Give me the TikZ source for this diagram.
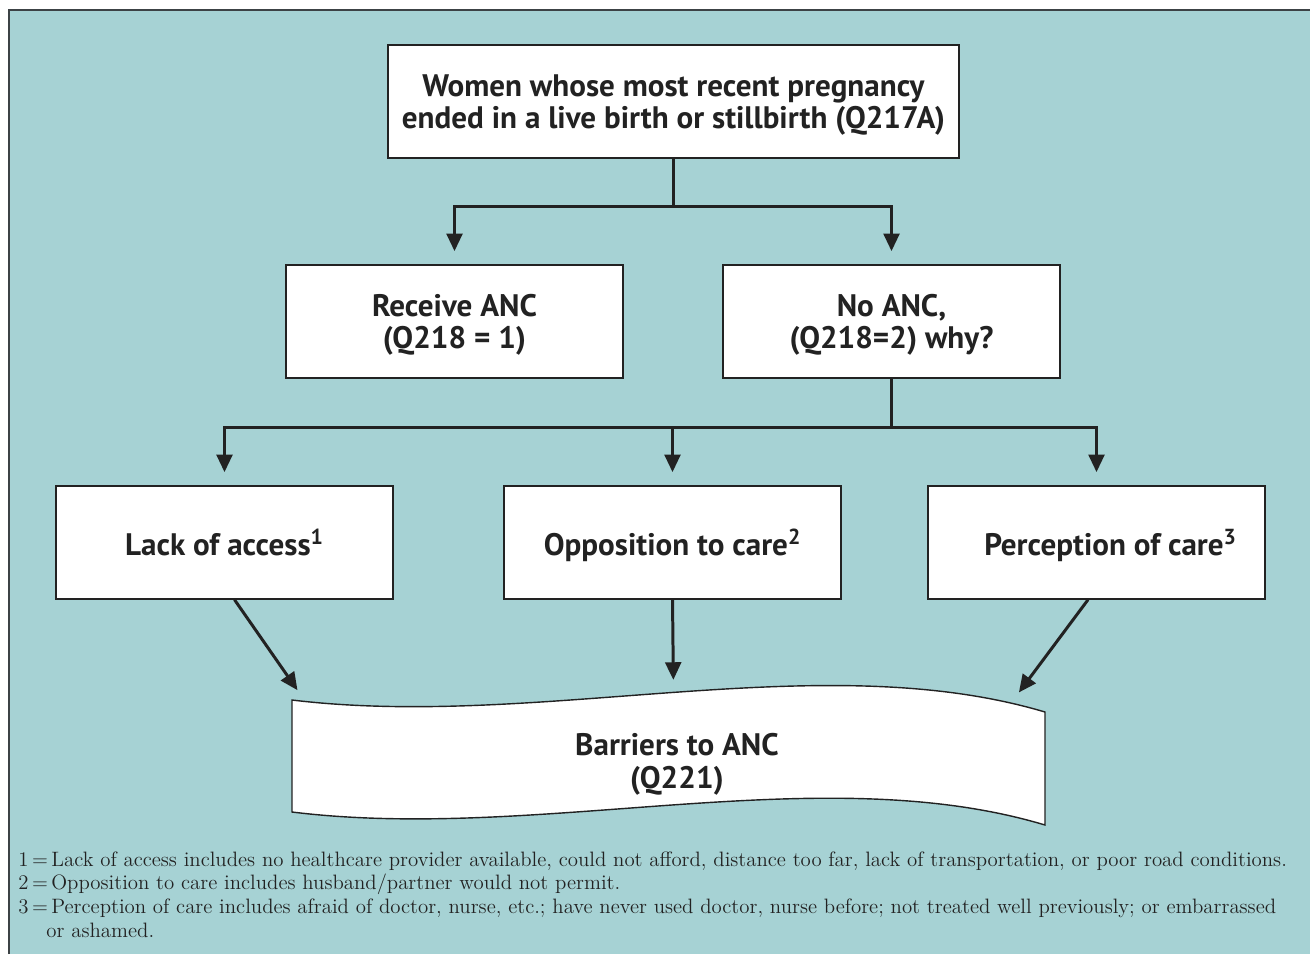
\documentclass[tikz,border=0pt]{standalone}
\usepackage{fontspec}
\usepackage{tikz}
\usetikzlibrary{arrows.meta}
\newfontfamily\boxfont{PT Sans}
\definecolor{panel}{HTML}{A6D2D4}
\definecolor{rim}{HTML}{3C4245}
\definecolor{ink}{HTML}{222222}
\tikzstyle{box}=[rectangle,draw=ink,fill=white,line width=0.8pt,minimum width=6.74cm,minimum height=2.26cm,align=center,text=ink,text depth=0pt,font=\boxfont\bfseries\fontsize{17.7}{18.5}\selectfont]
\tikzstyle{link}=[draw=ink,line width=1.7pt,-{Triangle[width=9pt,length=10pt]},shorten >=7.5pt]

\begin{document}
\begin{tikzpicture}[x=0.02cm,y=-0.02cm]
    \useasboundingbox (0,0) rectangle (1310,954);
    \fill[panel] (9,10) rectangle (1310,954);
    \draw[rim,line width=1.6pt] (9,954) -- (9,10) -- (1310,10);

    \node[box,minimum width=11.42cm] (women) at (673.5,101.5) {Women whose most recent pregnancy\\ended in a live birth or stillbirth (Q217A)};
    \node[box] (receive anc) at (454.5,321.5) {Receive ANC\\(Q218 = 1)};
    \node[box] (no anc) at (891.5,321.5) {No ANC,\\(Q218=2) why?};
    \node[box] (lack access) at (224.5,542.5) {Lack of access\textsuperscript{1}};
    \node[box] (opposition care) at (672.5,542.5) {Opposition to care\textsuperscript{2}};
    \node[box] (perception care) at (1096.5,542.5) {\hspace*{16pt}Perception of care\textsuperscript{3}};

    % barriers sheet
    \draw[ink,line width=0.8pt,fill=white] (292,700) .. controls (540,730) and (820,645) .. (1045,712)
        -- (1045,825) .. controls (820,757.5) and (540,842.5) .. (292,812) -- cycle;
    \node[text=ink,align=center,text depth=0pt,font=\boxfont\bfseries\fontsize{17.7}{18.5}\selectfont] (barriers) at (677,761) {Barriers to ANC\\(Q221)};
    \coordinate (left dock) at (305,701);
    \coordinate (mid dock) at (673.5,693);
    \coordinate (right dock) at (1011,703);

    \draw[link] (women.south) -- ++(0,48) coordinate (top split) -| (receive anc.north);
    \draw[link] (top split) -| (no anc.north);
    \draw[draw=ink,line width=1.7pt] (no anc.south) -- ++(0,49) coordinate (no split);
    \foreach \n in {lack access, opposition care, perception care} {
        \draw[link] (no split) -| (\n.north);
    }
    \draw[link] ([xshift=0.2cm]lack access.south) -- (left dock);
    \draw[link] (opposition care.south) -- (mid dock);
    \draw[link] ([xshift=-0.17cm]perception care.south) -- (right dock);

    \node[anchor=north west,inner sep=0pt,align=left,text=ink,font=\fontsize{11.85}{13.6}\selectfont] (notes) at (18,851) {1\,=\,Lack of access includes no healthcare provider available, could not afford, distance too far, lack of transportation, or poor road conditions.\\
        2\,=\,Opposition to care includes husband/partner would not permit.\\
        3\,=\,Perception of care includes afraid of doctor, nurse, etc.; have never used doctor, nurse before; not treated well previously; or embarrassed\\
        \hspace*{16pt}or ashamed.};
\end{tikzpicture}
\end{document}
